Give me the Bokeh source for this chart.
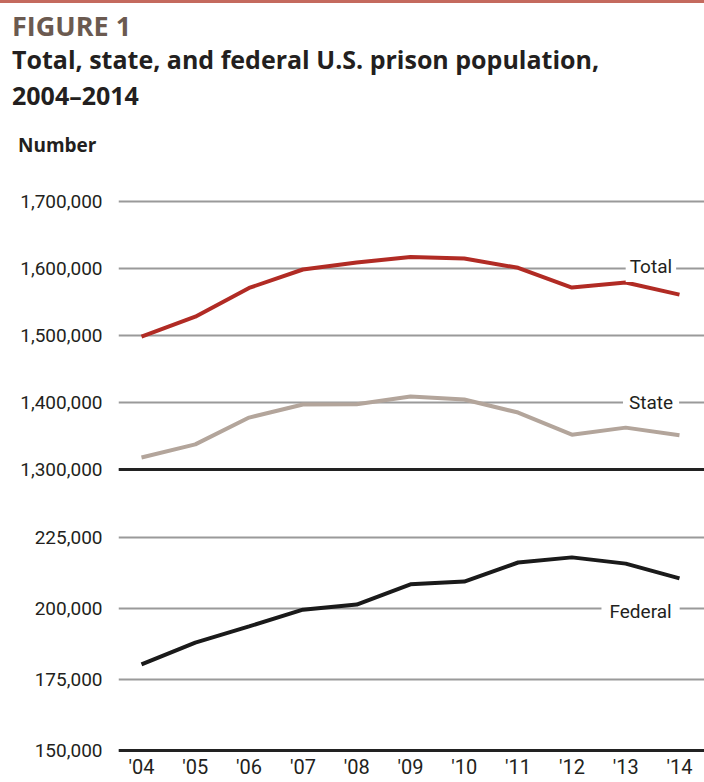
from bokeh.plotting import figure
from bokeh.layouts import column
from bokeh.models import Range1d, FixedTicker, Label, Span, ColumnDataSource, NumeralTickFormatter, Div
from bokeh.embed import file_html
from bokeh.resources import INLINE

# ---- data ----
years = [2004, 2005, 2006, 2007, 2008, 2009, 2010, 2011, 2012, 2013, 2014]
year_labels = ["'04", "'05", "'06", "'07", "'08", "'09", "'10", "'11", "'12", "'13", "'14"]
total = [1498500, 1528000, 1571000, 1598500, 1609000, 1617000, 1615000, 1601000, 1571500, 1579000, 1561000]
state = [1318000, 1337500, 1377500, 1397000, 1397500, 1409000, 1404500, 1385000, 1352000, 1362500, 1351000]
federal = [180300, 188000, 193700, 199600, 201400, 208500, 209500, 216200, 218000, 215800, 210600]
upper_ticks = [1300000, 1400000, 1500000, 1600000, 1700000]
lower_ticks = [150000, 175000, 200000, 225000]

kicker = "FIGURE 1"
title_1 = "Total, state, and federal U.S. prison population,"
title_2 = "2004\u20132014"
unit_label = "Number"

FONT = "Roboto"
HFONT = "'Open Sans', Roboto, sans-serif"
TXT = "#231f20"
GRID = "#9a9a9a"

src = ColumnDataSource(dict(year=years, total=total, state=state, federal=federal))

X0, X1 = 2003.5725, 2014.465

# ---- header (HTML text) ----
def abs_text(txt, left, top, size, color, weight="bold"):
    return (f'<div style="position:absolute;left:{left}px;top:{top}px;font-family:{HFONT};'
            f'font-size:{size}px;line-height:1;font-weight:{weight};color:{color};white-space:nowrap;">{txt}</div>')

head_html = (
    '<div style="position:relative;width:704px;height:180px;background:white;">'
    '<div style="position:absolute;left:0;top:0;width:704px;height:3px;background:#c46a5e;"></div>'
    + abs_text(kicker, 12, 12, 27, "#6b5a50")
    + abs_text(title_1, 12, 47, 25, TXT)
    + abs_text(title_2, 12, 83, 25, TXT)
    + abs_text(unit_label, 18, 136, 19, TXT)
    + '</div>'
)
head = Div(text=head_html, width=704, height=180, margin=0)

def style(p, ticks):
    p.outline_line_color = None
    p.xgrid.visible = False
    p.ygrid.ticker = FixedTicker(ticks=ticks)
    p.ygrid.grid_line_color = GRID
    p.ygrid.grid_line_width = 2
    p.yaxis.ticker = FixedTicker(ticks=ticks)
    p.yaxis.formatter = NumeralTickFormatter(format="0,0")
    p.yaxis.axis_line_color = None
    p.yaxis.major_tick_line_color = None
    p.yaxis.minor_tick_line_color = None
    p.yaxis.major_tick_out = 0
    p.yaxis.major_tick_in = 0
    p.yaxis.major_label_standoff = 16
    p.yaxis.major_label_text_font = FONT
    p.yaxis.major_label_text_font_size = "19px"
    p.yaxis.major_label_text_color = TXT

# ---- upper panel ----
up = figure(frame_width=586, frame_height=310, x_range=Range1d(X0, X1),
            y_range=Range1d(1268656, 1731343), output_backend="svg", toolbar_location=None,
            min_border_left=118, min_border_right=0, min_border_top=0, min_border_bottom=0,
            x_axis_location=None)
style(up, upper_ticks)
up.add_layout(Span(location=upper_ticks[0], dimension="width", line_color="#222222", line_width=3))
up.line("year", "total", source=src, line_color="#b12b24", line_width=4)
up.line("year", "state", source=src, line_color="#b3a59b", line_width=4)
up.add_layout(Label(x=2013.0, y=upper_ticks[3], text="Total", text_font=FONT, text_font_size="19px",
                    text_color=TXT, text_baseline="middle", y_offset=2,
                    background_fill_color="white", padding=4))
up.add_layout(Label(x=2012.95, y=upper_ticks[1], text="State", text_font=FONT, text_font_size="19px",
                    text_color=TXT, text_baseline="middle", y_offset=0,
                    background_fill_color="white", padding=6))

# ---- lower panel ----
lo = figure(frame_width=586, frame_height=262, x_range=Range1d(X0, X1),
            y_range=Range1d(149296, 241549), output_backend="svg", toolbar_location=None,
            min_border_left=118, min_border_right=0, min_border_top=0, min_border_bottom=30)
style(lo, lower_ticks)
lo.add_layout(Span(location=lower_ticks[0], dimension="width", line_color="#222222", line_width=3))
lo.line("year", "federal", source=src, line_color="#1a1a1a", line_width=4)
lo.add_layout(Label(x=2012.55, y=lower_ticks[2], text="Federal", text_font=FONT, text_font_size="19px",
                    text_color=TXT, text_baseline="middle", y_offset=-3,
                    background_fill_color="white", padding=8))
lo.xaxis.ticker = FixedTicker(ticks=years)
lo.xaxis.major_label_overrides = {y: l for y, l in zip(years, year_labels)}
lo.xaxis.axis_line_color = None
lo.xaxis.major_tick_line_color = None
lo.xaxis.minor_tick_line_color = None
lo.xaxis.major_tick_out = 0
lo.xaxis.major_tick_in = 0
lo.xaxis.major_label_standoff = 2
lo.xaxis.major_label_text_font = FONT
lo.xaxis.major_label_text_font_size = "20px"
lo.xaxis.major_label_text_color = TXT

layout = column(head, up, lo, spacing=0)
open("out.html", "w").write(file_html(layout, INLINE))
